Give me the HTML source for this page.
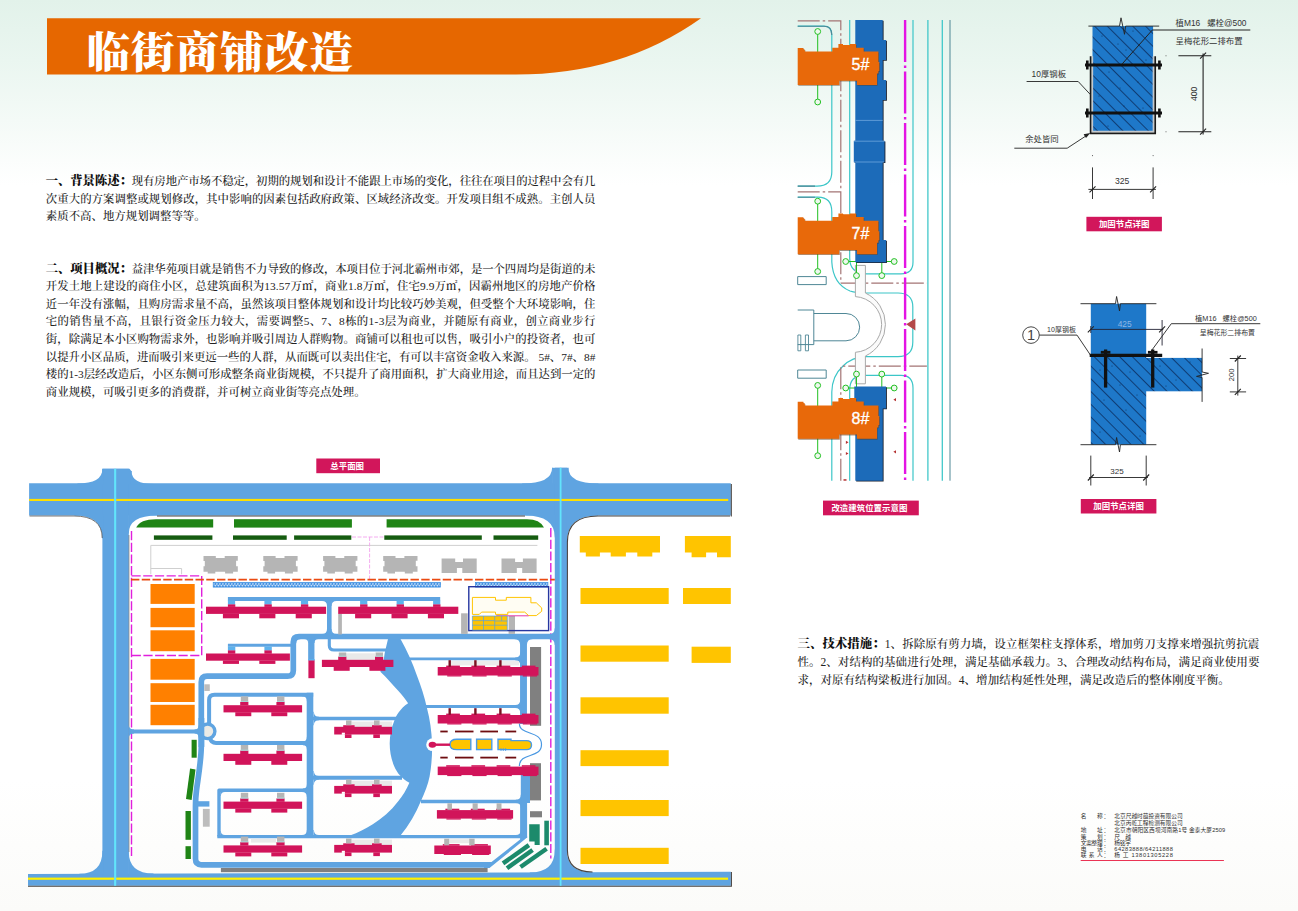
<!DOCTYPE html>
<html lang="zh-CN"><head><meta charset="utf-8"><title>临街商铺改造</title>
<style>
html,body{margin:0;padding:0}
body{width:1298px;height:911px;position:relative;overflow:hidden;
 background:linear-gradient(180deg,#e2f2ea 0px,#eaf6f0 60px,#f4faf7 120px,#ffffff 185px,#ffffff 780px,#fbfbf9 911px);
 font-family:"Liberation Serif","Noto Serif CJK SC",serif;color:#1a1a1a}
svg{position:absolute;left:0;top:0}
.title{position:absolute;left:86.5px;top:24.5px;font-family:"Liberation Serif","Noto Serif CJK SC",serif;font-weight:900;
 font-size:43.5px;line-height:56px;color:#fff;letter-spacing:1.1px;white-space:nowrap;transform-origin:0 50%;transform:scaleX(1)}
.para{position:absolute;font-size:11.4px;line-height:17.4px;font-weight:500;color:#222}
.para div{white-space:nowrap}
.para b{font-weight:900;color:#111;font-size:1.085em;line-height:1}
.contact{position:absolute;left:1080.5px;top:813px;font-family:"Liberation Sans","Noto Sans CJK SC",sans-serif;
 font-size:5.6px;line-height:6.3px;color:#333;white-space:nowrap}
.contact div{height:6.3px;position:relative}
.contact span{position:absolute;left:33.6px}
</style></head>
<body>
<svg width="1298" height="911" viewBox="0 0 1298 911">
<path d="M47,18.3 H701 Q622,74.6 516,74.6 H47 Z" fill="#e66700"/>
<g id="siteplan">
<g fill="#5fa4e1"><path d="M29.1,483.3 H730.8 V515.4 H29.1 Z"/><path d="M28,873.9 L730.8,871.7 V885.8 H28 Z"/><path d="M102.4,468.8 H128.8 V880.0 H102.4 Z"/><path d="M554.8,467.8 H567.0 V880.0 H554.8 Z"/><path d="M102.4,484 V468.8 H129.5 L131.5,471.3 V484 Z"/><path d="M103.1,484.3 L77.4,484.3 L77.4,483.6 Q102.4,483.6 102.4,469.1 L103.1,469.1 Z"/><path d="M130.8,484.7 L154.0,484.7 L154.0,484.0 Q131.5,484.0 131.5,471.0 L130.8,471.0 Z"/><path d="M103.1,514.7 L74.4,514.7 L74.4,515.4 Q102.4,515.4 102.4,538.4 L103.1,538.4 Z"/><path d="M128.1,514.7 L157.3,514.7 L157.3,515.4 Q128.8,515.4 128.8,533.4 L128.1,533.4 Z"/><path d="M128.1,874.3 L153.5,874.3 L153.5,873.6 Q128.8,873.6 128.8,852.1 L128.1,852.1 Z"/><path d="M103.1,874.5 L79.4,874.5 L79.4,873.8 Q102.4,873.8 102.4,850.8 L103.1,850.8 Z"/><path d="M552.1,467.8 H568.4 V484.0 H552.1 Z"/><path d="M552.8,484.3 L522.1,484.3 L522.1,483.6 Q552.1,483.6 552.1,467.8 L552.8,467.8 Z"/><path d="M567.7,484.3 L598.4,484.3 L598.4,483.6 Q568.4,483.6 568.4,467.8 L567.7,467.8 Z"/><path d="M555.5,514.7 L525.3,514.7 L525.3,515.4 Q554.8,515.4 554.8,537.4 L555.5,537.4 Z"/><path d="M566.3,514.7 L598.0,514.7 L598.0,515.4 Q567.0,515.4 567.0,541.9 L566.3,541.9 Z"/><path d="M555.5,873.1 L529.8,873.1 L529.8,872.4 Q554.8,872.4 554.8,849.4 L555.5,849.4 Z"/><path d="M566.3,872.9 L592.5,872.9 L592.5,872.2 Q567.0,872.2 567.0,850.7 L566.3,850.7 Z"/></g>
<path d="M157,516 H525" stroke="#4a4440" stroke-width="1" fill="none"/>
<path d="M730,516 H598 Q567.4,516 567.4,542 V850 Q567.4,872 592.5,872" stroke="#4a4440" stroke-width="1.1" fill="none"/>
<path d="M731.3,484 V516.4" stroke="#4a4440" stroke-width="1.1" fill="none"/>
<path d="M29.5,516 H74 Q102.2,516 102.2,538" stroke="#4a4440" stroke-width="0.9" fill="none" opacity="0.8"/>
<path d="M28,886.3 H731.4 V872" stroke="#4a4440" stroke-width="1.1" fill="none"/>
<path d="M129,535 V852" stroke="#4a4440" stroke-width="0.7" fill="none" opacity="0.7"/>
<rect x="29.1" y="498.9" width="699.1" height="2.1" fill="#ffdf00"/>
<rect x="28.0" y="877.6" width="700.1" height="2.2" fill="#fff000"/>
<rect x="114.1" y="468.8" width="2.1" height="417.0" fill="#62e4fb"/><rect x="559.7" y="467.8" width="1.8" height="418.0" fill="#62e4fb"/>
<path d="M136.2,527.6 Q140,519.2 156,519.2 H213.2 V527.6 Z" fill="#1f8415"/>
<rect x="234.0" y="519.2" width="117.9" height="8.4" fill="#1f8415"/>
<path d="M386.6,519.2 H527 Q540,519.2 544,527.6 H386.6 Z" fill="#1f8415"/>
<rect x="153.9" y="535.4" width="58.5" height="4.4" fill="#155c10"/>
<rect x="233.0" y="535.4" width="53.7" height="4.4" fill="#155c10"/>
<rect x="294.1" y="535.4" width="57.2" height="4.4" fill="#155c10"/>
<rect x="384.3" y="535.4" width="97.5" height="4.4" fill="#155c10"/>
<rect x="493.5" y="535.4" width="44.7" height="4.4" fill="#155c10"/>
<path d="M150.8,574.3 V545.4 H537.4 M150.8,568.5 H181.6 V574.3" stroke="#cfcfcf" stroke-width="1" fill="none"/>
<path d="M203.5,556.0 L215.8,556.0 L215.8,558.1 L224.7,558.1 L224.7,556.0 L237.8,556.0 L237.8,560.7 L236.1,560.7 L236.1,566.2 L237.8,566.2 L237.8,571.7 L233.1,571.7 L233.1,573.4 L225.1,573.4 L225.1,571.7 L215.3,571.7 L215.3,573.4 L207.7,573.4 L207.7,571.7 L203.5,571.7 L203.5,566.2 L204.8,566.2 L204.8,561.0 L203.5,561.0 Z" fill="#b5b5b5"/>
<path d="M263.3,556.0 L275.6,556.0 L275.6,558.1 L284.5,558.1 L284.5,556.0 L297.6,556.0 L297.6,560.7 L295.9,560.7 L295.9,566.2 L297.6,566.2 L297.6,571.7 L292.9,571.7 L292.9,573.4 L284.9,573.4 L284.9,571.7 L275.1,571.7 L275.1,573.4 L267.5,573.4 L267.5,571.7 L263.3,571.7 L263.3,566.2 L264.6,566.2 L264.6,561.0 L263.3,561.0 Z" fill="#b5b5b5"/>
<path d="M323.1,556.0 L335.4,556.0 L335.4,558.1 L344.3,558.1 L344.3,556.0 L357.4,556.0 L357.4,560.7 L355.7,560.7 L355.7,566.2 L357.4,566.2 L357.4,571.7 L352.7,571.7 L352.7,573.4 L344.7,573.4 L344.7,571.7 L334.9,571.7 L334.9,573.4 L327.3,573.4 L327.3,571.7 L323.1,571.7 L323.1,566.2 L324.4,566.2 L324.4,561.0 L323.1,561.0 Z" fill="#b5b5b5"/>
<path d="M383.2,556.0 L395.5,556.0 L395.5,558.1 L404.4,558.1 L404.4,556.0 L417.5,556.0 L417.5,560.7 L415.8,560.7 L415.8,566.2 L417.5,566.2 L417.5,571.7 L412.8,571.7 L412.8,573.4 L404.8,573.4 L404.8,571.7 L395.0,571.7 L395.0,573.4 L387.4,573.4 L387.4,571.7 L383.2,571.7 L383.2,566.2 L384.5,566.2 L384.5,561.0 L383.2,561.0 Z" fill="#b5b5b5"/>
<path d="M441.6,558.4 L455.2,558.4 L455.2,562.0 L463.0,562.0 L463.0,558.4 L476.7,558.4 L476.7,573.0 L462.3,573.0 L462.3,567.9 L456.9,567.9 L456.9,573.0 L441.6,573.0 Z" fill="#b5b5b5"/>
<path d="M501.5,558.4 L515.1,558.4 L515.1,562.0 L522.9,562.0 L522.9,558.4 L536.6,558.4 L536.6,573.0 L522.2,573.0 L522.2,567.9 L516.8,567.9 L516.8,573.0 L501.5,573.0 Z" fill="#b5b5b5"/>
<path d="M131.5,531 V856.5 M131.5,575.9 H201.7 V655.5 H131.5 M550.8,528 V858.5" stroke="#e01fdc" stroke-width="1.4" stroke-dasharray="9.2 2.5" fill="none"/>
<path d="M352,537 H384 M369.6,537 V579" stroke="#f3a3ee" stroke-width="0.9" stroke-dasharray="4 1.5" fill="none"/>
<path d="M131,579.7 H554.8" stroke="#ea4a12" stroke-width="1.8" stroke-dasharray="8.4 2.35" fill="none"/>
<rect x="150.5" y="584.0" width="44.2" height="19.9" fill="#ff8000"/>
<rect x="150.5" y="607.9" width="44.2" height="19.3" fill="#ff8000"/>
<rect x="150.5" y="630.3" width="44.2" height="20.9" fill="#ff8000"/>
<rect x="150.5" y="658.9" width="44.2" height="20.8" fill="#ff8000"/>
<rect x="150.5" y="683.2" width="44.2" height="18.8" fill="#ff8000"/>
<rect x="150.5" y="704.8" width="44.2" height="20.4" fill="#ff8000"/>
<defs><pattern id="hx" width="3" height="4.6" patternUnits="userSpaceOnUse" x="213.2" y="582.5"><rect width="3" height="4.6" fill="#2f86e0"/><path d="M0.75,0.35 L1.85,1.4 L0.75,2.45 L-0.35,1.4 Z M2.25,2.2 L3.35,3.25 L2.25,4.3 L1.15,3.25 Z" fill="#fff"/></pattern></defs>
<rect x="213.2" y="582.5" width="227.3" height="4.6" fill="url(#hx)" stroke="#3a8ee2" stroke-width="0.7"/>
<rect x="475.4" y="582.5" width="72.5" height="4.6" fill="url(#hx)" stroke="#3a8ee2" stroke-width="0.7"/>
<path d="M555,636.5 H299 Q293.3,636.5 293.3,642 V670.5 Q293.3,676.2 287.5,676.2 H207 Q201.3,676.2 201.3,682 V745 C201.3,760 198.5,775 196.5,790 Q195.5,798 195.5,806 V858.8 Q195.5,864.8 201.5,864.8 H487.5" stroke="#5fa4e1" stroke-width="5.7" fill="none" stroke-linejoin="round" />
<path d="M523.6,838 V801" stroke="#5fa4e1" stroke-width="7.0" fill="none" stroke-linejoin="round" />
<path d="M520.1,836 H527.1 V837.6 L489.5,867.9 H484 V862.1 H491.5 L520.1,839.6 Z" fill="#5fa4e1"/>
<path d="M525.4,775 V803" stroke="#5fa4e1" stroke-width="9.2" fill="none" stroke-linejoin="round" />
<path d="M523.5,637 V724" stroke="#5fa4e1" stroke-width="6.9" fill="none" stroke-linejoin="round" />
<path d="M227.9,599 H440.2" stroke="#5fa4e1" stroke-width="3.8" fill="none" stroke-linejoin="round" />
<path d="M329.3,598 V636" stroke="#5fa4e1" stroke-width="4.6" fill="none" stroke-linejoin="round" />
<path d="M227.9,645.3 H292" stroke="#5fa4e1" stroke-width="3.1" fill="none" stroke-linejoin="round" />
<path d="M311.3,637 V660.4" stroke="#5fa4e1" stroke-width="6.3" fill="none" stroke-linejoin="round" />
<path d="M329.3,637 V645.5 Q329.3,650 334,650 H388" stroke="#5fa4e1" stroke-width="3.1" fill="none" stroke-linejoin="round" />
<path d="M310,692.8 V838" stroke="#5fa4e1" stroke-width="6.6" fill="none" stroke-linejoin="round" />
<path d="M313.2,694.8 H214.5 Q209.1,694.8 209.1,700 V725 M210,738 Q211,742.9 216,742.9 H310" stroke="#5fa4e1" stroke-width="4.0" fill="none" stroke-linejoin="round" />
<path d="M310,790.2 H219 V836.6" stroke="#5fa4e1" stroke-width="3.4" fill="none" stroke-linejoin="round" />
<path d="M217.3,836.6 H522" stroke="#5fa4e1" stroke-width="3.1" fill="none" stroke-linejoin="round" />
<path d="M312,718.5 H398" stroke="#5fa4e1" stroke-width="3.5" fill="none" stroke-linejoin="round" />
<path d="M312,777.8 H402" stroke="#5fa4e1" stroke-width="3.9" fill="none" stroke-linejoin="round" />
<path d="M405,658.9 H521" stroke="#5fa4e1" stroke-width="2.8" fill="none" stroke-linejoin="round" />
<path d="M425,706.5 H521" stroke="#5fa4e1" stroke-width="3.1" fill="none" stroke-linejoin="round" />
<path d="M421,801.4 H522" stroke="#5fa4e1" stroke-width="3.5" fill="none" stroke-linejoin="round" />
<path d="M128.5,731.5 H201" stroke="#5fa4e1" stroke-width="4.1" fill="none" stroke-linejoin="round" />
<path d="M128.5,725 Q129.5,729.5 134,729.5 V733.6 Q129.5,733.6 128.5,738 Z" fill="#5fa4e1"/>
<circle cx="207.6" cy="731.3" r="7.3" fill="#ecebe6" stroke="#5fa4e1" stroke-width="3.4"/>
<path d="M201.4,718 V747" stroke="#5fa4e1" stroke-width="5.8" fill="none" stroke-linejoin="round" />
<path d="M197,803.9 H209.4" stroke="#5fa4e1" stroke-width="5.4" fill="none" stroke-linejoin="round" />
<g fill="#5fa4e1"><path d="M555.2,634.7 L548.7,634.7 L548.7,634.2 Q554.7,634.2 554.7,628.2 L555.2,628.2 Z"/><path d="M555.2,638.4 L548.7,638.4 L548.7,638.9 Q554.7,638.9 554.7,644.9 L555.2,644.9 Z"/><path d="M520.6,638.4 L514.1,638.4 L514.1,638.9 Q520.1,638.9 520.1,644.9 L520.6,644.9 Z"/><path d="M526.4,638.4 L532.9,638.4 L532.9,638.9 Q526.9,638.9 526.9,644.9 L526.4,644.9 Z"/><path d="M327.5,634.4 L322.0,634.4 L322.0,633.9 Q327.0,633.9 327.0,628.9 L327.5,628.9 Z"/><path d="M331.1,634.4 L336.6,634.4 L336.6,633.9 Q331.6,633.9 331.6,628.9 L331.1,628.9 Z"/><path d="M327.5,600.5 L322.0,600.5 L322.0,601.0 Q327.0,601.0 327.0,606.0 L327.5,606.0 Z"/><path d="M331.1,600.5 L336.6,600.5 L336.6,601.0 Q331.6,601.0 331.6,606.0 L331.1,606.0 Z"/><path d="M308.6,638.6 L304.1,638.6 L304.1,639.1 Q308.1,639.1 308.1,643.1 L308.6,643.1 Z"/><path d="M314.0,638.6 L318.5,638.6 L318.5,639.1 Q314.5,639.1 314.5,643.1 L314.0,643.1 Z"/><path d="M295.8,638.7 L300.3,638.7 L300.3,639.2 Q296.3,639.2 296.3,643.2 L295.8,643.2 Z"/><path d="M313.4,717.3 L318.9,717.3 L318.9,716.8 Q313.9,716.8 313.9,711.8 L313.4,711.8 Z"/><path d="M313.4,719.7 L318.9,719.7 L318.9,720.2 Q313.9,720.2 313.9,725.2 L313.4,725.2 Z"/><path d="M313.4,776.4 L318.9,776.4 L318.9,775.9 Q313.9,775.9 313.9,770.9 L313.4,770.9 Z"/><path d="M313.4,779.2 L318.9,779.2 L318.9,779.7 Q313.9,779.7 313.9,784.7 L313.4,784.7 Z"/><path d="M307.4,695.7 L301.9,695.7 L301.9,696.2 Q306.9,696.2 306.9,701.2 L307.4,701.2 Z"/><path d="M307.4,742.3 L301.9,742.3 L301.9,741.8 Q306.9,741.8 306.9,736.8 L307.4,736.8 Z"/><path d="M307.4,744.7 L302.9,744.7 L302.9,745.2 Q306.9,745.2 306.9,749.2 L307.4,749.2 Z"/><path d="M307.4,789.0 L302.9,789.0 L302.9,788.5 Q306.9,788.5 306.9,784.5 L307.4,784.5 Z"/><path d="M307.4,791.4 L301.9,791.4 L301.9,791.9 Q306.9,791.9 306.9,796.9 L307.4,796.9 Z"/><path d="M307.4,835.6 L301.9,835.6 L301.9,835.1 Q306.9,835.1 306.9,830.1 L307.4,830.1 Z"/><path d="M313.4,835.6 L318.9,835.6 L318.9,835.1 Q313.9,835.1 313.9,830.1 L313.4,830.1 Z"/><path d="M520.7,658.0 L515.2,658.0 L515.2,657.5 Q520.2,657.5 520.2,652.5 L520.7,652.5 Z"/><path d="M520.7,659.8 L515.2,659.8 L515.2,660.3 Q520.2,660.3 520.2,665.3 L520.7,665.3 Z"/><path d="M520.7,705.5 L515.2,705.5 L515.2,705.0 Q520.2,705.0 520.2,700.0 L520.7,700.0 Z"/><path d="M520.7,707.6 L515.2,707.6 L515.2,708.1 Q520.2,708.1 520.2,713.1 L520.7,713.1 Z"/><path d="M521.3,800.2 L515.8,800.2 L515.8,799.7 Q520.8,799.7 520.8,794.7 L521.3,794.7 Z"/><path d="M521.3,802.6 L515.8,802.6 L515.8,803.1 Q520.8,803.1 520.8,808.1 L521.3,808.1 Z"/><path d="M521.3,835.6 L515.8,835.6 L515.8,835.1 Q520.8,835.1 520.8,830.1 L521.3,830.1 Z"/><path d="M199.1,730.0 L194.6,730.0 L194.6,729.5 Q198.6,729.5 198.6,725.5 L199.1,725.5 Z"/><path d="M199.1,733.1 L194.6,733.1 L194.6,733.6 Q198.6,733.6 198.6,737.6 L199.1,737.6 Z"/><path d="M220.4,791.4 L224.9,791.4 L224.9,791.9 Q220.9,791.9 220.9,795.9 L220.4,795.9 Z"/><path d="M220.4,835.6 L224.9,835.6 L224.9,835.1 Q220.9,835.1 220.9,831.1 L220.4,831.1 Z"/></g>
<path d="M519.4,723.5 C519.4,736 541.5,730 541.5,744.4 C541.5,759 519.4,752 519.4,766" stroke="#4a98e2" stroke-width="1.2" fill="none" stroke-linejoin="round" />
<path d="M388,639 C386.5,646 384.5,652 384,658 C383,664 381,668 380.4,671.7 C387,678 393,685 398,690.6 C402,695 405.5,699.5 408.1,703.2 C400,708.5 396,716 394.2,720.9 C388.2,735 388.2,752 394.2,766.3 C397,773 402,779 409.4,782.7 C406.5,789.5 402.5,796 398,801.6 C391,811 382,818.5 372.8,824.3 C365.5,829 358,832.5 350,835.6 L400.5,835.6 C409,825 416,813.5 420.7,801.6 C425,792 428,784.5 429.6,776.4 C431.5,766 432.3,755 432.1,743.6 C431.6,731 430,719.5 427,708.2 C424.5,697 421,686 416.9,675.5 C412.5,662.5 407,650.5 400.5,639 Z" fill="#5fa4e1"/>
<rect x="461.1" y="613.3" width="6.6" height="20.6" fill="#b5b5b5"/>
<rect x="508.6" y="616.0" width="6.4" height="17.9" fill="#b5b5b5"/>
<rect x="338.2" y="613.6" width="3.7" height="20.8" fill="#b5b5b5"/>
<rect x="468.8" y="586.7" width="79.8" height="43.9" fill="none" stroke="#2536a0" stroke-width="1.4"/>
<path d="M472.4,597.4 H495.5 V600.2 H506.3 V597.4 H530.9 V602.8 H536.3 L541.7,607.9 V611.3 L536.3,615.6 H528.6 L524.7,612.1 H507.8 V614.4 H495.5 V612.1 H481.6 L479.3,614.4 H472.4 Z" fill="#fffdf3" stroke="#ffc400" stroke-width="1"/>
<path d="M496.2,615.8 H528.6" stroke="#e1219f" stroke-width="0.9"/>
<rect x="472.4" y="616.0" width="34.9" height="14.1" fill="#ffc400"/>
<path d="M472.4,616 H507.3 V630.1 H472.4 Z M483.5,616 V630.1 M494.7,616 V630.1 M501.6,616 V621 M472.4,620.6 H494.7 M472.4,625.2 H507.3 M494.7,621 H507.3" stroke="#55a0e6" stroke-width="0.7" fill="none"/>
<rect x="530.0" y="647.0" width="11.1" height="78.8" fill="#808080"/>
<rect x="530.0" y="763.2" width="11.0" height="37.2" fill="#808080"/>
<rect x="530.0" y="811.2" width="12.0" height="6.1" fill="#808080"/>
<rect x="220.9" y="868.0" width="266.7" height="4.2" fill="#808080"/>
<rect x="227.9" y="600.5" width="7.2" height="4.1" fill="#5db1ec"/>
<rect x="264.4" y="600.5" width="7.2" height="4.1" fill="#5db1ec"/>
<rect x="300.9" y="600.5" width="7.2" height="4.1" fill="#5db1ec"/>
<rect x="360.1" y="600.5" width="7.2" height="4.1" fill="#5db1ec"/>
<rect x="396.6" y="600.5" width="7.2" height="4.1" fill="#5db1ec"/>
<rect x="433.1" y="600.5" width="7.2" height="4.1" fill="#5db1ec"/>
<rect x="206.0" y="606.7" width="120.1" height="7.2" fill="#d1145a"/>
<rect x="227.9" y="604.4" width="7.4" height="2.5" fill="#d1145a"/>
<rect x="222.9" y="613.7" width="16.1" height="4.6" fill="#d1145a"/>
<rect x="264.4" y="604.4" width="7.4" height="2.5" fill="#d1145a"/>
<rect x="259.3" y="613.7" width="16.1" height="4.6" fill="#d1145a"/>
<rect x="300.9" y="604.4" width="7.4" height="2.5" fill="#d1145a"/>
<rect x="295.7" y="613.7" width="16.1" height="4.6" fill="#d1145a"/>
<rect x="338.2" y="606.7" width="120.1" height="7.2" fill="#d1145a"/>
<rect x="360.1" y="604.4" width="7.4" height="2.5" fill="#d1145a"/>
<rect x="355.1" y="613.7" width="16.1" height="4.6" fill="#d1145a"/>
<rect x="396.6" y="604.4" width="7.4" height="2.5" fill="#d1145a"/>
<rect x="391.5" y="613.7" width="16.1" height="4.6" fill="#d1145a"/>
<rect x="433.1" y="604.4" width="7.4" height="2.5" fill="#d1145a"/>
<rect x="427.9" y="613.7" width="16.1" height="4.6" fill="#d1145a"/>
<rect x="227.9" y="646.5" width="7.4" height="4.1" fill="#5db1ec"/>
<rect x="264.4" y="646.5" width="7.4" height="4.1" fill="#5db1ec"/>
<rect x="206.0" y="653.5" width="83.9" height="7.2" fill="#d1145a"/>
<rect x="227.9" y="650.4" width="7.4" height="3.3" fill="#d1145a"/>
<rect x="222.9" y="660.5" width="16.1" height="3.4" fill="#d1145a"/>
<rect x="264.4" y="650.4" width="7.4" height="3.3" fill="#d1145a"/>
<rect x="259.3" y="660.5" width="16.1" height="3.4" fill="#d1145a"/>
<rect x="308.4" y="660.2" width="6.2" height="18.0" fill="#d1145a"/>
<rect x="308.4" y="659.0" width="6.2" height="1.4" fill="#5db1ec"/>
<rect x="223.5" y="705.2" width="78.6" height="7.2" fill="#d1145a"/>
<rect x="240.2" y="702.0" width="8.2" height="3.4" fill="#d1145a"/>
<rect x="240.8" y="696.4" width="7.4" height="5.6" fill="#b5b5b5"/>
<rect x="240.8" y="701.0" width="7.4" height="1.0" fill="#a9d3d6"/>
<rect x="276.4" y="702.0" width="8.2" height="3.4" fill="#d1145a"/>
<rect x="277.0" y="696.4" width="7.4" height="5.6" fill="#b5b5b5"/>
<rect x="277.0" y="701.0" width="7.4" height="1.0" fill="#a9d3d6"/>
<rect x="235.3" y="712.2" width="16.0" height="4.0" fill="#d1145a"/>
<rect x="271.3" y="712.2" width="16.0" height="4.0" fill="#d1145a"/>
<rect x="223.5" y="753.8" width="78.6" height="7.2" fill="#d1145a"/>
<rect x="240.2" y="750.6" width="8.2" height="3.4" fill="#d1145a"/>
<rect x="240.8" y="745.0" width="7.4" height="5.6" fill="#b5b5b5"/>
<rect x="240.8" y="749.6" width="7.4" height="1.0" fill="#a9d3d6"/>
<rect x="276.4" y="750.6" width="8.2" height="3.4" fill="#d1145a"/>
<rect x="277.0" y="745.0" width="7.4" height="5.6" fill="#b5b5b5"/>
<rect x="277.0" y="749.6" width="7.4" height="1.0" fill="#a9d3d6"/>
<rect x="235.3" y="760.8" width="16.0" height="4.0" fill="#d1145a"/>
<rect x="271.3" y="760.8" width="16.0" height="4.0" fill="#d1145a"/>
<rect x="223.5" y="801.6" width="78.6" height="7.2" fill="#d1145a"/>
<rect x="240.2" y="798.4" width="8.2" height="3.4" fill="#d1145a"/>
<rect x="240.8" y="792.8" width="7.4" height="5.6" fill="#b5b5b5"/>
<rect x="240.8" y="797.4" width="7.4" height="1.0" fill="#a9d3d6"/>
<rect x="276.4" y="798.4" width="8.2" height="3.4" fill="#d1145a"/>
<rect x="277.0" y="792.8" width="7.4" height="5.6" fill="#b5b5b5"/>
<rect x="277.0" y="797.4" width="7.4" height="1.0" fill="#a9d3d6"/>
<rect x="235.3" y="808.6" width="16.0" height="4.0" fill="#d1145a"/>
<rect x="271.3" y="808.6" width="16.0" height="4.0" fill="#d1145a"/>
<rect x="223.5" y="845.4" width="78.6" height="7.2" fill="#d1145a"/>
<rect x="240.2" y="842.2" width="8.2" height="3.4" fill="#d1145a"/>
<rect x="240.8" y="836.6" width="7.4" height="5.6" fill="#b5b5b5"/>
<rect x="240.8" y="841.2" width="7.4" height="1.0" fill="#a9d3d6"/>
<rect x="276.4" y="842.2" width="8.2" height="3.4" fill="#d1145a"/>
<rect x="277.0" y="836.6" width="7.4" height="5.6" fill="#b5b5b5"/>
<rect x="277.0" y="841.2" width="7.4" height="1.0" fill="#a9d3d6"/>
<rect x="235.3" y="852.4" width="16.0" height="4.0" fill="#d1145a"/>
<rect x="271.3" y="852.4" width="16.0" height="4.0" fill="#d1145a"/>
<rect x="251.0" y="839.0" width="25.0" height="3.6" fill="#e9e9e9"/>
<rect x="345.2" y="653.3" width="29.8" height="6.5" fill="#e9e9e9"/>
<rect x="321.9" y="659.8" width="71.5" height="7.2" fill="#d1145a"/>
<rect x="338.2" y="656.6" width="8.2" height="3.4" fill="#d1145a"/>
<rect x="338.8" y="652.5" width="7.4" height="4.1" fill="#b5b5b5"/>
<rect x="338.8" y="655.6" width="7.4" height="1.0" fill="#a9d3d6"/>
<rect x="375.0" y="656.6" width="8.2" height="3.4" fill="#d1145a"/>
<rect x="375.6" y="652.5" width="7.4" height="4.1" fill="#b5b5b5"/>
<rect x="375.6" y="655.6" width="7.4" height="1.0" fill="#a9d3d6"/>
<rect x="333.7" y="666.8" width="16.0" height="4.0" fill="#d1145a"/>
<rect x="369.4" y="666.8" width="16.0" height="4.0" fill="#d1145a"/>
<rect x="351.5" y="721.6" width="22.5" height="5.3" fill="#e9e9e9"/>
<rect x="379.6" y="721.6" width="12.4" height="5.3" fill="#e9e9e9"/>
<rect x="334.2" y="726.8" width="57.8" height="7.7" fill="#d1145a"/>
<rect x="341.8" y="732.7" width="3.1" height="2.1" fill="#fff"/>
<rect x="343.2" y="725.2" width="11.4" height="1.8" fill="#d1145a"/>
<rect x="372.0" y="725.2" width="9.7" height="1.8" fill="#d1145a"/>
<rect x="346.0" y="720.4" width="5.5" height="4.8" fill="#b5b5b5"/>
<rect x="374.0" y="720.4" width="5.6" height="4.8" fill="#b5b5b5"/>
<rect x="344.9" y="734.3" width="6.6" height="3.7" fill="#d1145a"/>
<rect x="373.3" y="734.3" width="6.6" height="3.7" fill="#d1145a"/>
<rect x="351.5" y="780.7" width="22.5" height="5.3" fill="#e9e9e9"/>
<rect x="379.6" y="780.7" width="12.4" height="5.3" fill="#e9e9e9"/>
<rect x="334.2" y="785.9" width="57.8" height="7.7" fill="#d1145a"/>
<rect x="341.8" y="791.8" width="3.1" height="2.1" fill="#fff"/>
<rect x="343.2" y="784.3" width="11.4" height="1.8" fill="#d1145a"/>
<rect x="372.0" y="784.3" width="9.7" height="1.8" fill="#d1145a"/>
<rect x="346.0" y="779.5" width="5.5" height="4.8" fill="#b5b5b5"/>
<rect x="374.0" y="779.5" width="5.6" height="4.8" fill="#b5b5b5"/>
<rect x="344.9" y="793.4" width="6.6" height="3.7" fill="#d1145a"/>
<rect x="373.3" y="793.4" width="6.6" height="3.7" fill="#d1145a"/>
<rect x="351.5" y="839.7" width="22.5" height="5.3" fill="#e9e9e9"/>
<rect x="379.6" y="839.7" width="12.4" height="5.3" fill="#e9e9e9"/>
<rect x="334.2" y="844.9" width="57.8" height="7.7" fill="#d1145a"/>
<rect x="341.8" y="850.8" width="3.1" height="2.1" fill="#fff"/>
<rect x="343.2" y="843.3" width="11.4" height="1.8" fill="#d1145a"/>
<rect x="372.0" y="843.3" width="9.7" height="1.8" fill="#d1145a"/>
<rect x="346.0" y="838.5" width="5.5" height="4.8" fill="#b5b5b5"/>
<rect x="374.0" y="838.5" width="5.6" height="4.8" fill="#b5b5b5"/>
<rect x="344.9" y="852.4" width="6.6" height="3.7" fill="#d1145a"/>
<rect x="373.3" y="852.4" width="6.6" height="3.7" fill="#d1145a"/>
<rect x="451.0" y="661.0" width="68.0" height="4.4" fill="#ececec"/>
<rect x="437.7" y="667.0" width="100.8" height="8.5" fill="#d1145a"/>
<rect x="446.2" y="665.6" width="13.7" height="1.6" fill="#d1145a"/>
<rect x="447.2" y="675.2" width="14.2" height="1.3" fill="#d1145a"/>
<rect x="471.4" y="665.6" width="13.7" height="1.6" fill="#d1145a"/>
<rect x="472.4" y="675.2" width="14.2" height="1.3" fill="#d1145a"/>
<rect x="496.6" y="665.6" width="13.7" height="1.6" fill="#d1145a"/>
<rect x="497.6" y="675.2" width="14.2" height="1.3" fill="#d1145a"/>
<rect x="521.8" y="665.6" width="13.7" height="1.6" fill="#d1145a"/>
<rect x="522.8" y="675.2" width="14.2" height="1.3" fill="#d1145a"/>
<rect x="448.5" y="660.2" width="2.4" height="6.5" fill="#7a1222"/>
<rect x="474.2" y="660.2" width="2.4" height="6.5" fill="#7a1222"/>
<rect x="499.2" y="660.2" width="2.4" height="6.5" fill="#7a1222"/>
<rect x="437.7" y="715.0" width="100.8" height="8.5" fill="#d1145a"/>
<rect x="446.2" y="713.6" width="13.7" height="1.6" fill="#d1145a"/>
<rect x="447.2" y="723.2" width="14.2" height="1.3" fill="#d1145a"/>
<rect x="471.4" y="713.6" width="13.7" height="1.6" fill="#d1145a"/>
<rect x="472.4" y="723.2" width="14.2" height="1.3" fill="#d1145a"/>
<rect x="496.6" y="713.6" width="13.7" height="1.6" fill="#d1145a"/>
<rect x="497.6" y="723.2" width="14.2" height="1.3" fill="#d1145a"/>
<rect x="521.8" y="713.6" width="13.7" height="1.6" fill="#d1145a"/>
<rect x="522.8" y="723.2" width="14.2" height="1.3" fill="#d1145a"/>
<rect x="448.5" y="708.2" width="2.4" height="6.5" fill="#7a1222"/>
<rect x="474.2" y="708.2" width="2.4" height="6.5" fill="#7a1222"/>
<rect x="499.2" y="708.2" width="2.4" height="6.5" fill="#7a1222"/>
<rect x="437.7" y="766.6" width="100.8" height="8.5" fill="#d1145a"/>
<rect x="446.2" y="765.2" width="13.7" height="1.6" fill="#d1145a"/>
<rect x="447.2" y="774.8" width="14.2" height="1.3" fill="#d1145a"/>
<rect x="471.4" y="765.2" width="13.7" height="1.6" fill="#d1145a"/>
<rect x="472.4" y="774.8" width="14.2" height="1.3" fill="#d1145a"/>
<rect x="496.6" y="765.2" width="13.7" height="1.6" fill="#d1145a"/>
<rect x="497.6" y="774.8" width="14.2" height="1.3" fill="#d1145a"/>
<rect x="521.8" y="765.2" width="13.7" height="1.6" fill="#d1145a"/>
<rect x="522.8" y="774.8" width="14.2" height="1.3" fill="#d1145a"/>
<rect x="436.9" y="810.1" width="76.2" height="8.5" fill="#d1145a"/>
<rect x="445.4" y="808.7" width="13.9" height="1.6" fill="#d1145a"/>
<rect x="446.4" y="818.3" width="14.4" height="1.3" fill="#d1145a"/>
<rect x="470.8" y="808.7" width="13.9" height="1.6" fill="#d1145a"/>
<rect x="471.8" y="818.3" width="14.4" height="1.3" fill="#d1145a"/>
<rect x="496.2" y="808.7" width="13.9" height="1.6" fill="#d1145a"/>
<rect x="497.2" y="818.3" width="14.4" height="1.3" fill="#d1145a"/>
<rect x="447.4" y="803.3" width="4.6" height="6.5" fill="#b5b5b5"/>
<rect x="472.6" y="803.3" width="5.1" height="6.5" fill="#b5b5b5"/>
<rect x="496.6" y="803.3" width="4.9" height="6.5" fill="#b5b5b5"/>
<rect x="449.3" y="839.3" width="19.9" height="3.9" fill="#e9e9e9"/>
<rect x="434.3" y="845.5" width="56.5" height="8.5" fill="#d1145a"/>
<rect x="442.8" y="844.1" width="16.8" height="1.6" fill="#d1145a"/>
<rect x="443.8" y="853.7" width="17.2" height="1.3" fill="#d1145a"/>
<rect x="471.1" y="844.1" width="16.8" height="1.6" fill="#d1145a"/>
<rect x="472.1" y="853.7" width="17.2" height="1.3" fill="#d1145a"/>
<rect x="444.2" y="838.7" width="5.0" height="6.5" fill="#b5b5b5"/>
<rect x="469.2" y="838.7" width="5.4" height="6.5" fill="#b5b5b5"/>
<rect x="204.3" y="684.3" width="5.5" height="6.7" fill="#bdbdbd"/>
<rect x="202.9" y="808.9" width="6.8" height="17.8" fill="#bdbdbd"/>
<rect x="440.3" y="730.6" width="7.4" height="1.8" fill="#6e0d10"/>
<rect x="455.0" y="730.6" width="18.5" height="1.8" fill="#6e0d10"/>
<rect x="480.3" y="730.6" width="17.7" height="1.8" fill="#6e0d10"/>
<rect x="505.4" y="730.6" width="10.8" height="1.8" fill="#6e0d10"/>
<rect x="440.3" y="756.7" width="7.4" height="1.8" fill="#6e0d10"/>
<rect x="455.0" y="756.7" width="18.5" height="1.8" fill="#6e0d10"/>
<rect x="480.3" y="756.7" width="17.7" height="1.8" fill="#6e0d10"/>
<rect x="505.4" y="756.7" width="10.8" height="1.8" fill="#6e0d10"/>
<path d="M470.8,739.2 H457 Q450,739.2 450,744.4 Q450,749.6 457,749.6 H470.8 Z" fill="#ffc400" stroke="#4a9be6" stroke-width="1.4"/>
<rect x="476.6" y="739.2" width="15.2" height="10.4" fill="#ffc400" stroke="#4a9be6" stroke-width="1.4"/>
<path d="M498,739.2 H511 V740.6 H526.5 Q531.5,740.6 531.5,745 Q531.5,749.6 526.5,749.6 H498 Z" fill="#ffc400" stroke="#4a9be6" stroke-width="1.4"/>
<path d="M501,748 V751 M503.3,748 V751 M505.6,748 V751" stroke="#4a9be6" stroke-width="0.8"/>
<circle cx="432.6" cy="744.7" r="6.4" fill="#fff"/>
<ellipse cx="432.4" cy="744.7" rx="3.8" ry="3" fill="#d1145a"/>
<rect x="435.0" y="743.5" width="15.0" height="2.4" fill="#d1145a"/>
<rect x="191.6" y="739.8" width="5.1" height="17.9" fill="#1f8415"/>
<path d="M190.1,768.4 L195.5,769.4 L191.6,799.9 L186,798.9 Z" fill="#1f8415"/>
<rect x="185.5" y="811.0" width="5.4" height="28.8" fill="#1f8415"/>
<rect x="185.5" y="846.2" width="5.4" height="12.8" fill="#1f8415"/>
<path d="M529.2,824.2 H539.7 V845 H534.6 V841.6 H529.2 Z" fill="#1c8a6b"/>
<rect x="544.3" y="820.7" width="4.6" height="24.6" fill="#1c8a6b"/>
<path d="M504.3,865.2 L530.2,846.9 L527.6,843.3 L501.7,861.6 Z" fill="#1c8a6b"/>
<path d="M508.3,870.0 L533.9,851.8 L531.3,848.2 L505.7,866.4 Z" fill="#1c8a6b"/>
<path d="M521.8,868.8 L547.9,850.6 L545.3,847.0 L519.2,865.2 Z" fill="#1c8a6b"/>
<path d="M579.8,536.1 H660 V552.5 H652.3 V556.6 H637.3 V552.5 H625.9 V556.6 H610.7 V552.5 H599.9 V556.6 H585.8 V552.5 H579.8 Z" fill="#ffc400"/>
<path d="M684.9,536.1 H730.8 V557.3 H717 V552.5 H706.1 V557.3 H691.6 V552.5 H684.9 Z" fill="#ffc400"/>
<rect x="580.5" y="588.0" width="88.2" height="16.0" fill="#ffc400"/>
<rect x="683.0" y="588.0" width="47.8" height="16.0" fill="#ffc400"/>
<rect x="580.5" y="645.5" width="88.2" height="16.2" fill="#ffc400"/>
<rect x="691.6" y="646.7" width="39.2" height="16.2" fill="#ffc400"/>
<rect x="580.5" y="697.3" width="88.2" height="16.4" fill="#ffc400"/>
<rect x="580.5" y="750.2" width="88.2" height="15.9" fill="#ffc400"/>
<rect x="580.5" y="800.0" width="88.2" height="16.1" fill="#ffc400"/>
<rect x="580.5" y="847.8" width="88.2" height="16.2" fill="#ffc400"/>
<rect x="316.3" y="458.5" width="63.7" height="14.7" fill="#d2165b"/><text x="347.2" y="468.9" font-family="Liberation Sans, Noto Sans CJK SC, sans-serif" font-size="8.45" font-weight="700" fill="#fff" text-anchor="middle">总平面图</text>
</g>
<g id="location"><g fill="none">
<path d="M927.9,20 V480.7 M942.3,20 V480.7" stroke="#3cc6c8" stroke-width="1.25"/>
<path d="M950,20 V480.7" stroke="#4f8796" stroke-width="1"/>
<path d="M913,20 V262 Q913,273.8 901,273.8 H866.9 Q849.7,273.8 849.7,258 V20" stroke="#3cc6c8" stroke-width="1.2"/>
<path d="M913,480.7 V388 Q913,375.4 901,375.4 H864 Q849.7,375.4 849.7,390 V480.7" stroke="#3cc6c8" stroke-width="1.2"/>
<path d="M797.7,26.2 H824 Q831.8,26.2 831.8,35 V172 Q831.8,186.1 817,186.1 H797.7" stroke="#3cc6c8" stroke-width="1.2"/>
<path d="M797.7,197.2 H818 Q831.8,197.2 831.8,212 V262 Q833,284 850,291 Q856,293 866,293 H898 Q912.8,293 912.8,307 V342 Q912.8,356.6 898,356.6 H866 Q852,357 843,366 Q832,376 831.8,392 V480.7" stroke="#3cc6c8" stroke-width="1.2"/>
<path d="M797.7,26.2 H824 Q831.8,26.2 831.8,35 M797.7,186.1 H815 M797.7,197.2 H815" stroke="#4f8796" stroke-width="1.1"/>
<path d="M797.7,20.8 H840.8 V283.1 M797.7,191.8 H840.8 M840.8,283.1 H926.9 M840.8,480.7 V366.2 H926.9" stroke="#a47474" stroke-width="1.2" stroke-dasharray="22 3 2.5 3"/>
<path d="M905.1,20 V480.7" stroke="#e413e4" stroke-width="2.4" stroke-dasharray="42 3.5 2.5 3.5"/>
<path d="M855.4,265.4 H865.4 V293 A34.8,34.8 0 0 1 865.4,356 V383.8 H855.4 V352.3 A27.9,27.9 0 0 0 855.4,296.6 Z" stroke="#a9a9a9" stroke-width="1" fill="#fbfbfb"/>
<path d="M797.7,276.6 H826.2 V284.6 H797.7 Z M797.7,370 H826.2 V378.2 H797.7 Z" stroke="#4f8796" stroke-width="1"/>
<path d="M797.7,310 H813.8 V344.6 H797.7 M813.8,313.5 H846 A13.6,13.6 0 0 1 846,340.8 H813.8" stroke="#4f8796" stroke-width="1"/>
<path d="M797.9,335 H800.8 V350.8 H797.9 Z M805.4,335 H808.5 V350.8 H805.4 Z" stroke="#4f8796" stroke-width="0.9"/>
</g>
<path d="M817.7,31.5 V102 M817.7,201.2 V271.5 M817.7,385.4 V455.7 M845.7,261.5 H894.2 M881.8,256 V276 M856.5,262 V276 M845.7,388 H894.2 M881.8,374.1 V394 M856.5,374.1 V394" stroke="#22c022" stroke-width="1" fill="none"/>
<path d="M855.3,20 H882.7 V40 H886 V60 H882.7 V80 H886 V100 H882.7 V140.7 H884.5 V162.3 H882.7 V240 H886 V262.3 H855.3 V162.3 H853.8 V140.7 H855.3 Z" fill="#1c2230" transform="translate(0.9,0.7)"/>
<path d="M855.3,20 H882.7 V40 H886 V60 H882.7 V80 H886 V100 H882.7 V140.7 H884.5 V162.3 H882.7 V240 H886 V262.3 H855.3 V162.3 H853.8 V140.7 H855.3 Z" fill="#1c6bb9"/>
<path d="M855.3,120.4 H882.7 M854,141.2 H884 M854,162 H884" stroke="#6fa6dd" stroke-width="0.8" fill="none"/>
<path d="M854.3,386.5 H886 V408.5 H882.7 V480.7 H855.3 V408.5 H854.3 Z" fill="#1c2230" transform="translate(0.9,0.7)"/>
<path d="M854.3,386.5 H886 V408.5 H882.7 V480.7 H855.3 V408.5 H854.3 Z" fill="#1c6bb9"/>
<path d="M797.7,47.9 L803.4,47.9 L803.4,49.4 L804.8,49.4 L804.8,51.5 L832.3,51.5 L832.3,47.7 L838.4,47.7 L838.4,44.1 L843.0,44.1 L843.0,45.0 L850.0,45.0 L850.0,44.1 L856.1,44.1 L856.1,47.7 L863.7,47.7 L863.7,51.5 L878.4,51.5 L878.4,62.0 L879.3,62.0 L879.3,71.0 L878.4,71.0 L878.4,73.5 L877.0,73.5 L877.0,84.9 L856.9,84.9 L856.9,80.7 L839.2,80.7 L839.2,84.9 L797.7,84.9 Z" fill="#5a3a20" opacity="0.55" transform="translate(0.6,0.9)"/><path d="M797.7,47.9 L803.4,47.9 L803.4,49.4 L804.8,49.4 L804.8,51.5 L832.3,51.5 L832.3,47.7 L838.4,47.7 L838.4,44.1 L843.0,44.1 L843.0,45.0 L850.0,45.0 L850.0,44.1 L856.1,44.1 L856.1,47.7 L863.7,47.7 L863.7,51.5 L878.4,51.5 L878.4,62.0 L879.3,62.0 L879.3,71.0 L878.4,71.0 L878.4,73.5 L877.0,73.5 L877.0,84.9 L856.9,84.9 L856.9,80.7 L839.2,80.7 L839.2,84.9 L797.7,84.9 Z" fill="#e8690a"/><text x="860.5" y="70.0" font-family="Liberation Sans, Noto Sans CJK SC, sans-serif" font-size="16" fill="#fff" stroke="#fff" stroke-width="0.35" text-anchor="middle">5#</text>
<path d="M797.7,217.2 L803.4,217.2 L803.4,218.7 L804.8,218.7 L804.8,220.8 L832.3,220.8 L832.3,217.0 L838.4,217.0 L838.4,213.4 L843.0,213.4 L843.0,214.3 L850.0,214.3 L850.0,213.4 L856.1,213.4 L856.1,217.0 L863.7,217.0 L863.7,220.8 L878.4,220.8 L878.4,231.3 L879.3,231.3 L879.3,240.3 L878.4,240.3 L878.4,242.8 L877.0,242.8 L877.0,254.2 L856.9,254.2 L856.9,250.0 L839.2,250.0 L839.2,254.2 L797.7,254.2 Z" fill="#5a3a20" opacity="0.55" transform="translate(0.6,0.9)"/><path d="M797.7,217.2 L803.4,217.2 L803.4,218.7 L804.8,218.7 L804.8,220.8 L832.3,220.8 L832.3,217.0 L838.4,217.0 L838.4,213.4 L843.0,213.4 L843.0,214.3 L850.0,214.3 L850.0,213.4 L856.1,213.4 L856.1,217.0 L863.7,217.0 L863.7,220.8 L878.4,220.8 L878.4,231.3 L879.3,231.3 L879.3,240.3 L878.4,240.3 L878.4,242.8 L877.0,242.8 L877.0,254.2 L856.9,254.2 L856.9,250.0 L839.2,250.0 L839.2,254.2 L797.7,254.2 Z" fill="#e8690a"/><text x="860.5" y="239.3" font-family="Liberation Sans, Noto Sans CJK SC, sans-serif" font-size="16" fill="#fff" stroke="#fff" stroke-width="0.35" text-anchor="middle">7#</text>
<path d="M797.7,401.8 L803.4,401.8 L803.4,403.3 L804.8,403.3 L804.8,405.4 L832.3,405.4 L832.3,401.6 L838.4,401.6 L838.4,398.0 L843.0,398.0 L843.0,398.9 L850.0,398.9 L850.0,398.0 L856.1,398.0 L856.1,401.6 L863.7,401.6 L863.7,405.4 L878.4,405.4 L878.4,415.9 L879.3,415.9 L879.3,424.9 L878.4,424.9 L878.4,427.4 L877.0,427.4 L877.0,438.8 L856.9,438.8 L856.9,434.6 L839.2,434.6 L839.2,438.8 L797.7,438.8 Z" fill="#5a3a20" opacity="0.55" transform="translate(0.6,0.9)"/><path d="M797.7,401.8 L803.4,401.8 L803.4,403.3 L804.8,403.3 L804.8,405.4 L832.3,405.4 L832.3,401.6 L838.4,401.6 L838.4,398.0 L843.0,398.0 L843.0,398.9 L850.0,398.9 L850.0,398.0 L856.1,398.0 L856.1,401.6 L863.7,401.6 L863.7,405.4 L878.4,405.4 L878.4,415.9 L879.3,415.9 L879.3,424.9 L878.4,424.9 L878.4,427.4 L877.0,427.4 L877.0,438.8 L856.9,438.8 L856.9,434.6 L839.2,434.6 L839.2,438.8 L797.7,438.8 Z" fill="#e8690a"/><text x="860.5" y="423.9" font-family="Liberation Sans, Noto Sans CJK SC, sans-serif" font-size="16" fill="#fff" stroke="#fff" stroke-width="0.35" text-anchor="middle">8#</text>
<circle cx="817.7" cy="31.5" r="2.9" fill="#eef8ee" stroke="#22c022" stroke-width="1"/>
<circle cx="817.7" cy="102.0" r="2.9" fill="#eef8ee" stroke="#22c022" stroke-width="1"/>
<circle cx="817.7" cy="201.2" r="2.9" fill="#eef8ee" stroke="#22c022" stroke-width="1"/>
<circle cx="817.7" cy="271.5" r="2.9" fill="#eef8ee" stroke="#22c022" stroke-width="1"/>
<circle cx="817.7" cy="385.4" r="2.9" fill="#eef8ee" stroke="#22c022" stroke-width="1"/>
<circle cx="817.7" cy="455.7" r="2.9" fill="#eef8ee" stroke="#22c022" stroke-width="1"/>
<circle cx="845.7" cy="261.5" r="2.9" fill="#eef8ee" stroke="#22c022" stroke-width="1"/>
<circle cx="894.2" cy="261.5" r="2.9" fill="#eef8ee" stroke="#22c022" stroke-width="1"/>
<circle cx="856.5" cy="275.6" r="2.9" fill="#eef8ee" stroke="#22c022" stroke-width="1"/>
<circle cx="881.8" cy="275.6" r="2.9" fill="#eef8ee" stroke="#22c022" stroke-width="1"/>
<circle cx="856.5" cy="374.1" r="2.9" fill="#eef8ee" stroke="#22c022" stroke-width="1"/>
<circle cx="881.8" cy="374.1" r="2.9" fill="#eef8ee" stroke="#22c022" stroke-width="1"/>
<circle cx="845.7" cy="388.0" r="2.9" fill="#eef8ee" stroke="#22c022" stroke-width="1"/>
<circle cx="894.2" cy="388.0" r="2.9" fill="#eef8ee" stroke="#22c022" stroke-width="1"/>
<path d="M915.4,318.5 V330.5 L906.2,324.3 Z" fill="#b44848"/>
<path d="M896.0,398.1 v3.2 l-2.6,-1.6 Z" fill="#b43030"/>
<path d="M896.0,450.2 v3.2 l-2.6,-1.6 Z" fill="#b43030"/>
<path d="M845.9,440.7 v3.2 l2.6,-1.6 Z" fill="#b43030"/>
<path d="M845.9,451.9 v3.2 l2.6,-1.6 Z" fill="#b43030"/>
<path d="M843.5,479.2 h3 v1.5 h-3 Z" fill="#b43030"/>
<rect x="823.0" y="500.6" width="95.8" height="14.7" fill="#d2165b"/><text x="869.4" y="511.0" font-family="Liberation Sans, Noto Sans CJK SC, sans-serif" font-size="8.45" font-weight="700" fill="#fff" text-anchor="middle">改造建筑位置示意图</text></g>
<g id="detail1"><defs><pattern id="hat" width="9" height="9" patternUnits="userSpaceOnUse" patternTransform="rotate(45)"><rect width="9" height="9" fill="#1e78c9"/><path d="M0,0.5 H9" stroke="#0d376c" stroke-width="0.9"/></pattern></defs>
<rect x="1092.5" y="26.1" width="60.6" height="105.6" fill="url(#hat)"/>
<circle cx="1102" cy="36" r="0.6" fill="#0f3566"/>
<circle cx="1118" cy="44" r="0.6" fill="#0f3566"/>
<circle cx="1109" cy="72" r="0.6" fill="#0f3566"/>
<circle cx="1126" cy="50" r="0.6" fill="#0f3566"/>
<circle cx="1138" cy="82" r="0.6" fill="#0f3566"/>
<circle cx="1120" cy="88" r="0.6" fill="#0f3566"/>
<circle cx="1099" cy="96" r="0.6" fill="#0f3566"/>
<circle cx="1124" cy="106" r="0.6" fill="#0f3566"/>
<circle cx="1108" cy="126" r="0.6" fill="#0f3566"/>
<circle cx="1143" cy="108" r="0.6" fill="#0f3566"/>
<circle cx="1133" cy="31" r="0.6" fill="#0f3566"/>
<circle cx="1146" cy="60" r="0.6" fill="#0f3566"/>
<path d="M1088.4,26.1 H1119.5 L1121,17.8 L1124.5,34.3 L1125.6,26.1 H1159.2" stroke="#222" stroke-width="0.9" fill="none" />
<path d="M1092.4,56.3 V131.6 H1153.4 V56.3" stroke="#c4c8cc" stroke-width="1.5" fill="none" />
<path d="M1090.6,56.3 V133.4 H1155.2 V56.3" stroke="#1a1a1a" stroke-width="1.7" fill="none" />
<path d="M1085,65 H1162" stroke="#111" stroke-width="3.2" fill="none" />
<path d="M1087.3,60.4 V69.6 M1159.4,60.4 V69.6" stroke="#111" stroke-width="2.6" fill="none" />
<path d="M1085,113 H1162" stroke="#111" stroke-width="3.2" fill="none" />
<path d="M1087.3,108.4 V117.6 M1159.4,108.4 V117.6" stroke="#111" stroke-width="2.6" fill="none" />
<text x="1175.6" y="26.3" font-family="Liberation Sans, Noto Sans CJK SC, sans-serif" font-size="8.4" fill="#333" text-anchor="start" >植M16&#160;&#160;&#160;螺栓@500</text>
<path d="M1250.3,30 H1152.3 L1122.1,64" stroke="#222" stroke-width="1" fill="none" />
<text x="1175.6" y="43.6" font-family="Liberation Sans, Noto Sans CJK SC, sans-serif" font-size="8.4" fill="#333" text-anchor="start" >呈梅花形二排布置</text>
<text x="1031.6" y="76.5" font-family="Liberation Sans, Noto Sans CJK SC, sans-serif" font-size="8.4" fill="#333" text-anchor="start" >10厚钢板</text>
<path d="M1026.6,81.5 H1078.2 L1090.5,94.7" stroke="#222" stroke-width="0.9" fill="none" />
<text x="1025.2" y="142.1" font-family="Liberation Sans, Noto Sans CJK SC, sans-serif" font-size="8.4" fill="#333" text-anchor="start" >余处皆同</text>
<path d="M1014.3,148.2 H1067.2 L1088,134.6" stroke="#222" stroke-width="0.9" fill="none" />
<path d="M1090.3,133 L1083.6,134.2 L1086,138 Z" fill="#222"/>
<path d="M1203.1,53.5 V134.5 M1178.4,55.7 H1211.3 M1178.4,131.7 H1211.3" stroke="#222" stroke-width="1.1" fill="none" />
<path d="M1203.1,55.7 l3,-3 M1203.1,55.7 l-3,3" stroke="#222" stroke-width="1.1"/><path d="M1203.1,131.7 l3,-3 M1203.1,131.7 l-3,3" stroke="#222" stroke-width="1.1"/>
<text x="0.0" y="0.0" font-family="Liberation Sans, Noto Sans CJK SC, sans-serif" font-size="8.6" fill="#333" text-anchor="middle" transform="translate(1196.6,93.9) rotate(-90)">400</text>
<path d="M1088.4,189.4 H1155.9 M1092.5,167.4 V199 M1153.1,167.4 V199" stroke="#222" stroke-width="0.9" fill="none" />
<path d="M1092.5,189.4 l3,-3 M1092.5,189.4 l-3,3" stroke="#222" stroke-width="1.1"/><path d="M1153.1,189.4 l3,-3 M1153.1,189.4 l-3,3" stroke="#222" stroke-width="1.1"/>
<text x="1122.1" y="184.2" font-family="Liberation Sans, Noto Sans CJK SC, sans-serif" font-size="8.6" fill="#333" text-anchor="middle" >325</text>
<circle cx="1166" cy="55.7" r="0.55" fill="#555"/>
<circle cx="1166" cy="131.7" r="0.55" fill="#555"/>
<circle cx="1092.5" cy="155.6" r="0.55" fill="#555"/>
<circle cx="1153.1" cy="155.6" r="0.55" fill="#555"/>
<rect x="1086.4" y="216.8" width="75.5" height="14.5" fill="#d2165b"/><text x="1124.2" y="227.1" font-family="Liberation Sans, Noto Sans CJK SC, sans-serif" font-size="8.45" font-weight="700" fill="#fff" text-anchor="middle">加固节点详图</text></g>
<g id="detail2"><rect x="1090.8" y="303.7" width="55.4" height="52.3" fill="#1e78c9"/>
<rect x="1090.8" y="356.5" width="55.4" height="88.2" fill="url(#hat)"/>
<rect x="1146.0" y="357.9" width="56.1" height="33.4" fill="url(#hat)"/>
<circle cx="1100" cy="370" r="0.6" fill="#0f3566"/>
<circle cx="1112" cy="366" r="0.6" fill="#0f3566"/>
<circle cx="1130" cy="372" r="0.6" fill="#0f3566"/>
<circle cx="1160" cy="366" r="0.6" fill="#0f3566"/>
<circle cx="1176" cy="380" r="0.6" fill="#0f3566"/>
<circle cx="1190" cy="362" r="0.6" fill="#0f3566"/>
<circle cx="1104" cy="400" r="0.6" fill="#0f3566"/>
<circle cx="1126" cy="410" r="0.6" fill="#0f3566"/>
<circle cx="1137" cy="395" r="0.6" fill="#0f3566"/>
<circle cx="1100" cy="432" r="0.6" fill="#0f3566"/>
<circle cx="1140" cy="436" r="0.6" fill="#0f3566"/>
<circle cx="1120" cy="385" r="0.6" fill="#0f3566"/>
<circle cx="1166" cy="386" r="0.6" fill="#0f3566"/>
<path d="M1080.5,303.7 H1115.5 L1116.6,296.5 L1119.5,311 L1120.4,303.7 H1156.4" stroke="#222" stroke-width="0.9" fill="none" />
<path d="M1080.5,444.7 H1115.5 L1116.6,437.5 L1119.5,452 L1120.4,444.7 H1156.4" stroke="#222" stroke-width="0.9" fill="none" />
<path d="M1202.1,348.5 V372 L1208.5,373.3 L1196.5,376.4 L1202.1,377.5 V401.9" stroke="#222" stroke-width="0.9" fill="none" />
<path d="M1089.7,355.4 H1162.2" stroke="#111" stroke-width="3.4" fill="none" />
<path d="M1105.6,349.5 V387.6" stroke="#111" stroke-width="3.3" fill="none" />
<path d="M1100.8,352.3 H1110.3999999999999" stroke="#111" stroke-width="2.8" fill="none" />
<path d="M1152.7,349.5 V387.6" stroke="#111" stroke-width="3.3" fill="none" />
<path d="M1147.9,352.3 H1157.5" stroke="#111" stroke-width="2.8" fill="none" />
<path d="M1090.8,329.4 H1163.3 M1162.1,320 V345.5 M1090.8,326 V333" stroke="#223" stroke-width="0.9" fill="none" />
<path d="M1090.8,329.4 l3,-3 M1090.8,329.4 l-3,3" stroke="#222" stroke-width="1.1"/><path d="M1162.1,329.4 l3,-3 M1162.1,329.4 l-3,3" stroke="#222" stroke-width="1.1"/>
<text x="1124.7" y="327.2" font-family="Liberation Sans, Noto Sans CJK SC, sans-serif" font-size="8.4" fill="#8fb6e3" text-anchor="middle" >425</text>
<circle cx="1031" cy="335.1" r="8.3" fill="none" stroke="#333" stroke-width="0.9"/>
<text x="1031.0" y="340.2" font-family="Liberation Sans, Noto Sans CJK SC, sans-serif" font-size="14.5" fill="#444" text-anchor="middle" >1</text>
<path d="M1039.4,335.1 H1077 L1090.4,355" stroke="#222" stroke-width="0.9" fill="none" />
<text x="1047.1" y="332.1" font-family="Liberation Sans, Noto Sans CJK SC, sans-serif" font-size="7" fill="#333" text-anchor="start" >10厚钢板</text>
<text x="1195.0" y="321.4" font-family="Liberation Sans, Noto Sans CJK SC, sans-serif" font-size="7.3" fill="#333" text-anchor="start" >植M16&#160;&#160;&#160;螺栓@500</text>
<path d="M1260.3,323.7 H1171.3 L1149.9,352.8" stroke="#222" stroke-width="0.9" fill="none" />
<text x="1199.8" y="334.8" font-family="Liberation Sans, Noto Sans CJK SC, sans-serif" font-size="6.9" fill="#333" text-anchor="start" >呈梅花形二排布置</text>
<path d="M1237.8,355.6 V395.6 M1229.8,358.5 H1246.1 M1229.8,391.9 H1246.1" stroke="#222" stroke-width="0.9" fill="none" />
<path d="M1237.8,358.5 l3,-3 M1237.8,358.5 l-3,3" stroke="#222" stroke-width="1.1"/><path d="M1237.8,391.9 l3,-3 M1237.8,391.9 l-3,3" stroke="#222" stroke-width="1.1"/>
<text x="0.0" y="0.0" font-family="Liberation Sans, Noto Sans CJK SC, sans-serif" font-size="7.6" fill="#333" text-anchor="middle" transform="translate(1233.8,374.8) rotate(-90)">200</text>
<path d="M1089.1,477.5 H1147.9 M1090.8,455.6 V485.5 M1146.2,455.6 V485.5" stroke="#222" stroke-width="0.9" fill="none" />
<path d="M1090.8,477.5 l3,-3 M1090.8,477.5 l-3,3" stroke="#222" stroke-width="1.1"/><path d="M1146.2,477.5 l3,-3 M1146.2,477.5 l-3,3" stroke="#222" stroke-width="1.1"/>
<text x="1117.0" y="474.2" font-family="Liberation Sans, Noto Sans CJK SC, sans-serif" font-size="8" fill="#333" text-anchor="middle" >325</text>
<rect x="1080.8" y="499.0" width="75.6" height="14.5" fill="#d2165b"/><text x="1118.6" y="509.3" font-family="Liberation Sans, Noto Sans CJK SC, sans-serif" font-size="8.45" font-weight="700" fill="#fff" text-anchor="middle">加固节点详图</text></g>
<path d="M1080.7,860.5 H1223.9" stroke="#ea3354" stroke-width="1.1"/>
<g font-family="Liberation Sans, Noto Sans CJK SC, sans-serif" font-size="5.7" fill="#2e2e2e" xml:space="preserve">
<text x="1080.7" y="818.4" textLength="22" lengthAdjust="spacing">名　　称</text><text x="1103.4" y="818.4">：</text>
<text x="1114.3" y="818.4" textLength="68.3" lengthAdjust="spacing">北京尺越时蕴投资有限公司</text>
<text x="1114.3" y="824.5" textLength="68.3" lengthAdjust="spacing">北京丙乾工程检测有限公司</text>
<text x="1080.7" y="832.4" textLength="22" lengthAdjust="spacing">地　　址</text><text x="1103.4" y="832.4">：</text>
<text x="1114.3" y="832.4" textLength="110.9" lengthAdjust="spacing">北京市朝阳区西坝河南路1号 金泰大厦2509</text>
<text x="1080.7" y="838.7" textLength="22" lengthAdjust="spacing">策　　划</text><text x="1103.4" y="838.7">：</text>
<text x="1114.3" y="838.7" textLength="16.6" lengthAdjust="spacing">尺 越</text>
<text x="1080.7" y="844.7" textLength="22" lengthAdjust="spacing">文案整理</text><text x="1103.4" y="844.7">：</text>
<text x="1114.3" y="844.7" textLength="16.6" lengthAdjust="spacing">杨铭宇</text>
<text x="1080.7" y="850.7" textLength="22" lengthAdjust="spacing">电　　话</text><text x="1103.4" y="850.7">：</text>
<text x="1114.3" y="850.7" textLength="58.5" lengthAdjust="spacing">64283888/64211888</text>
<text x="1080.7" y="857.0" textLength="22" lengthAdjust="spacing">联 系 人</text><text x="1103.4" y="857.0">：</text>
<text x="1114.3" y="857.0" textLength="58.5" lengthAdjust="spacing">杨 工  13801305228</text>
</g>
</svg>
<div class="title">临街商铺改造</div>
<div class="para" style="left:45.8px;top:173.2px;width:549.6px;">
<div style="letter-spacing:-0.084px"><b>一、背景陈述：</b>现有房地产市场不稳定，初期的规划和设计不能跟上市场的变化，往往在项目的过程中会有几</div>
<div style="letter-spacing:0.06px">次重大的方案调整或规划修改，其中影响的因素包括政府政策、区域经济改变。开发项目组不成熟。主创人员</div>
<div style="letter-spacing:0.03px">素质不高、地方规划调整等等。</div>
</div>
<div class="para" style="left:45.8px;top:260.6px;width:549.6px;line-height:17.62px;">
<div style="letter-spacing:-0.084px"><b>二、项目概况：</b>益津华苑项目就是销售不力导致的修改，本项目位于河北霸州市郊，是一个四周均是街道的未</div>
<div style="letter-spacing:0.107px">开发土地上建设的商住小区，总建筑面积为13.57万㎡，商业1.8万㎡，住宅9.9万㎡，因霸州地区的房地产价格</div>
<div style="letter-spacing:0.06px">近一年没有涨幅，且购房需求量不高，虽然该项目整体规划和设计均比较巧妙美观，但受整个大环境影响，住</div>
<div style="letter-spacing:0.329px">宅的销售量不高，且银行资金压力较大，需要调整5、7、8栋的1-3层为商业，并随原有商业，创立商业步行</div>
<div style="letter-spacing:0.06px">街，除满足本小区购物需求外，也影响并吸引周边人群购物。商铺可以租也可以售，吸引小户的投资者，也可</div>
<div style="letter-spacing:-0.0px">以提升小区品质，进而吸引来更远一些的人群，从而既可以卖出住宅，有可以丰富资金收入来源。 5#、7#、8#</div>
<div style="letter-spacing:-0.019px">楼的1-3层经改造后，小区东侧可形成整条商业街规模，不只提升了商用面积，扩大商业用途，而且达到一定的</div>
<div style="letter-spacing:0.03px">商业规模，可吸引更多的消费群，并可树立商业街等亮点处理。</div>
</div>
<div class="para" style="left:797.4px;top:636.4px;width:462px;font-size:11.5px;line-height:17.6px;">
<div style="letter-spacing:0.024px"><b>三、技术措施：</b>1、拆除原有剪力墙，设立框架柱支撑体系，增加剪刀支撑来增强抗剪抗震</div>
<div style="letter-spacing:0.05px">性。2、对结构的基础进行处理，满足基础承载力。3、合理改动结构布局，满足商业使用要</div>
<div style="letter-spacing:0.03px">求，对原有结构梁板进行加固。4、增加结构延性处理，满足改造后的整体刚度平衡。</div>
</div>
</body></html>
